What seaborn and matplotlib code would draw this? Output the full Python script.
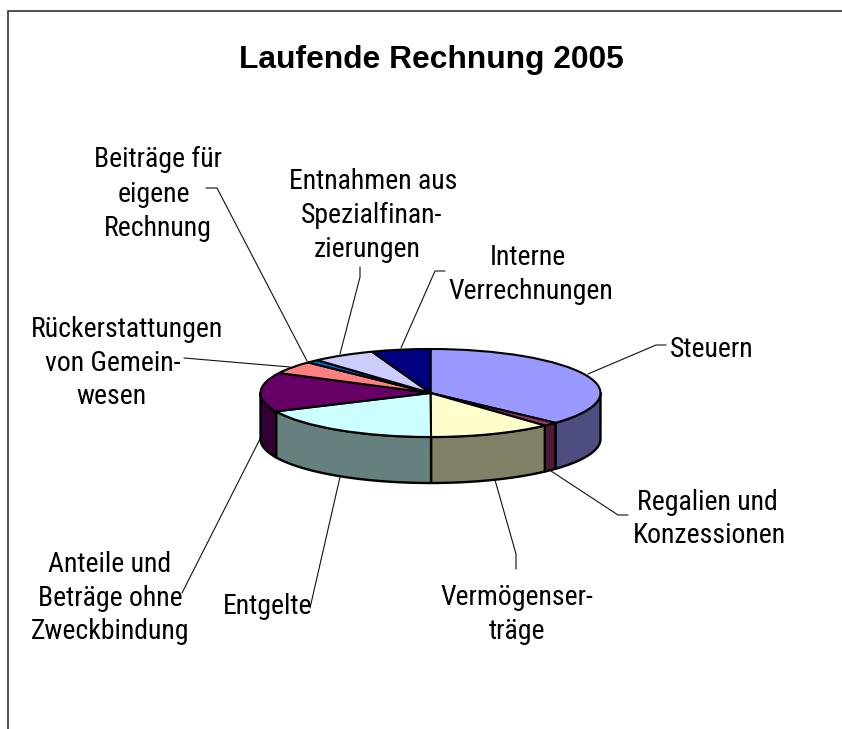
import numpy as np
import seaborn as sns
import matplotlib
matplotlib.use('Agg')
import matplotlib.pyplot as plt

categories = ['Steuern', 'Regalien und Konzessionen', 'Vermögenserträge', 'Entgelte',
              'Anteile und Beiträge ohne Zweckbindung', 'Rückerstattungen von Gemeinwesen',
              'Beiträge für eigene Rechnung', 'Entnahmen aus Spezialfinanzierungen',
              'Interne Verrechnungen']
values = [36.9, 1.4, 11.7, 18.2, 14.4, 4.7, 1.2, 6.0, 5.6]
slice_colors = ['#9999FF', '#993366', '#FFFFCC', '#CCFFFF', '#660066',
                '#FF8080', '#0066CC', '#CCCCFF', '#000080']
title = 'Laufende Rechnung 2005'

W, H = 842, 729
CX, CY, RX, RY, DEPTH = 430.5, 393, 170, 44, 46

sns.set_theme(style='white')
label_font = ['Roboto Condensed', 'Liberation Sans']
plt.rcParams['font.family'] = ['Liberation Sans', 'DejaVu Sans']

fig = plt.figure(figsize=(W / 100, H / 100), dpi=100, facecolor='white')

# Ebene in Pixelkoordinaten fuer Rahmen, Texte und Fuehrungslinien
ax = fig.add_axes([0, 0, 1, 1])
ax.set_xlim(0, W)
ax.set_ylim(H, 0)
ax.axis('off')
ax.plot([7.5, 7.5, W], [H, 10.5, 10.5], color='#222222', lw=1.1, solid_joinstyle='miter')

# Fuehrungslinien
leaders = [
    ([666, 656, 588], [345, 345, 374]),
    ([628, 618, 551], [515, 515, 471]),
    ([516, 516, 495], [569, 554, 480]),
    ([310, 340], [608, 477]),
    ([182, 260], [593, 439]),
    ([184, 290], [358, 367]),
    ([206, 217, 307], [188, 188, 361]),
    ([360, 360, 340], [267, 277, 354]),
    ([445, 435, 401], [271, 271, 348]),
]
for xs, ys in leaders:
    ax.plot(xs, ys, color='#111111', lw=0.8)

# Beschriftung, Zeile fuer Zeile: Text, Mitte x, Grundlinie y
label_lines = [
    ('Steuern', 712, 357),
    ('Regalien und', 707, 510), ('Konzessionen', 709, 543),
    ('Vermögenser-', 517, 605), ('träge', 517, 639),
    ('Entgelte', 268, 614),
    ('Anteile und', 110, 572), ('Beträge ohne', 110, 606), ('Zweckbindung', 110, 639),
    ('Rückerstattungen', 127, 337), ('von Gemein-', 113, 371), ('wesen', 111, 404),
    ('Beiträge für', 158, 167), ('eigene', 154, 202), ('Rechnung', 157.5, 236),
    ('Entnahmen aus', 373, 189), ('Spezialfinan-', 372, 223), ('zierungen', 367.5, 257),
    ('Interne', 528, 265), ('Verrechnungen', 531, 299),
]
for txt, x, y in label_lines:
    ax.text(x, y, txt, ha='center', va='baseline', fontsize=20, color='black', family=label_font)

ax.text(431, 68, title, ha='center', va='baseline', fontsize=22.9, fontweight='bold', color='black')

# Tortenachse: eine Einheit = RX bzw. RY Pixel, dadurch wird der Kreis zur Ellipse
mx, top, bottom = 1.1, 1.1, 2.2
pie_ax = fig.add_axes([(CX - mx * RX) / W, 1 - (CY + bottom * RY) / H,
                       2 * mx * RX / W, (top + bottom) * RY / H])
pie_ax.patch.set_alpha(0)

# Seitenwand aus den Anteilen: nur die vordere Haelfte (90 bis 270 Grad) ist sichtbar
shares = np.array(values) / np.sum(values) * 360
ends = np.cumsum(shares)
starts = ends - shares
d = DEPTH / RY
for a0, a1, col in zip(starts, ends, slice_colors):
    lo, hi = max(a0, 90), min(a1, 270)
    if lo >= hi:
        continue
    t = np.radians(np.linspace(lo, hi, 80))
    xs = np.sin(t)
    ys = np.cos(t)
    dark = tuple(c * 0.5 for c in matplotlib.colors.to_rgb(col))
    pie_ax.fill(np.r_[xs, xs[::-1]], np.r_[ys, ys[::-1] - d], facecolor=dark,
                edgecolor='black', lw=1.7, joinstyle='round')

pie_ax.pie(values, colors=slice_colors, startangle=90, counterclock=False, radius=1,
           wedgeprops=dict(edgecolor='black', linewidth=1.5))
pie_ax.set_aspect('auto')
pie_ax.set_xlim(-mx, mx)
pie_ax.set_ylim(-bottom, top)
pie_ax.axis('off')

fig.savefig('out.png', dpi=100)
